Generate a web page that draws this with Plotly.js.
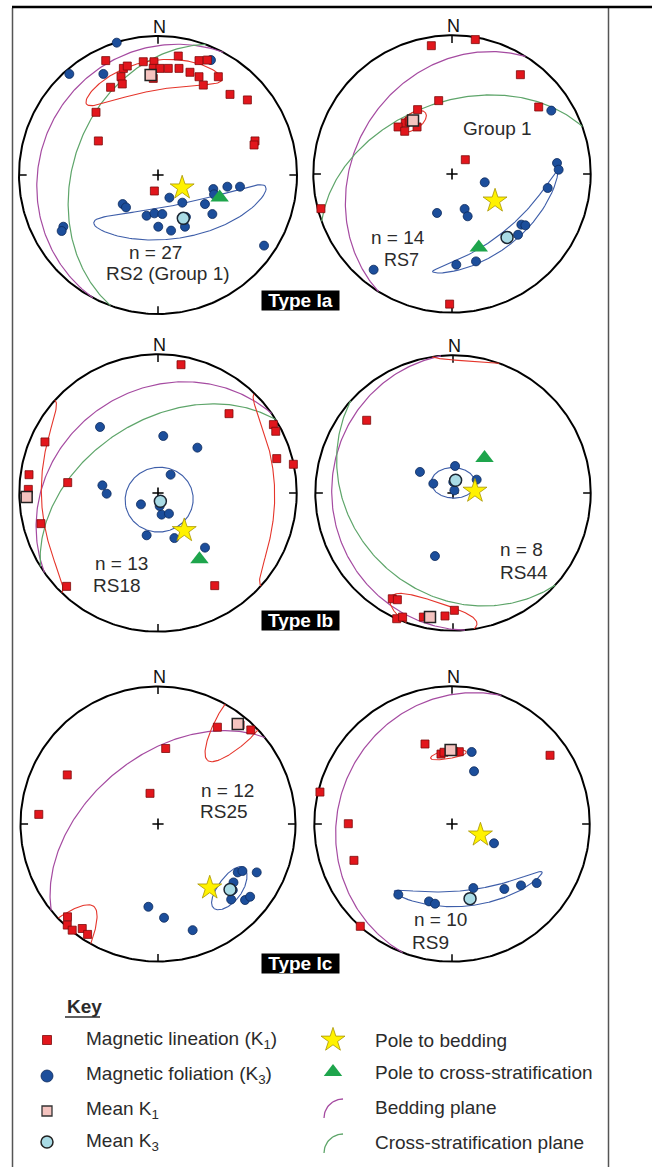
<!DOCTYPE html>
<html><head><meta charset="utf-8">
<script src="https://cdn.plot.ly/plotly-3.0.1.min.js"></script>
<style>html,body{margin:0;padding:0;background:#fff;} #chart{width:652px;height:1167px;}</style>
</head><body><div id="chart"></div>
<script>
// ---------- DATA (projected equal-area net coordinates, unit = net radius; [east, north]) ----------
// RS2 (Group 1)
const rs2_k1 = [[-0.376,0.823],[-0.249,0.767],[-0.221,0.784],[-0.106,0.815],[-0.029,0.815],[-0.034,0.767],[0.014,0.767],[0.074,0.767],[0.146,0.856],[0.151,0.767],[0.230,0.739],[0.295,0.823],[0.355,0.827],[0.295,0.707],[0.434,0.707],[0.326,0.647],[-0.266,0.707],[-0.257,0.655],[-0.341,0.631],[0.518,0.580],[0.643,0.540],[-0.446,0.451],[-0.429,0.245],[0.698,0.245],[0.691,0.216],[-0.026,-0.115],[-0.034,0.695]];
const rs2_k3 = [[-0.297,0.952],[-0.638,0.727],[-0.393,0.727],[0.381,0.827],[-0.254,-0.209],[-0.230,-0.233],[-0.082,-0.293],[-0.026,-0.276],[0.031,-0.281],[0.002,-0.372],[0.094,-0.400],[0.082,-0.163],[0.175,-0.199],[0.194,-0.372],[0.201,-0.302],[0.338,-0.209],[0.391,-0.281],[0.398,-0.101],[0.403,-0.139],[0.499,-0.084],[0.590,-0.084],[-0.681,-0.372],[-0.693,-0.403],[0.763,-0.508]];
const rs2_meanK1 = [-0.053,0.719];
const rs2_meanK3 = [0.182,-0.312];
const rs2_bedding = [298,16];      // dip direction, dip
const rs2_crossStrat = [290,39];
const rs2_ellipseK1 = [356,29,36,10,-9];   // trend, plunge, major, minor semi-angle, rotation
const rs2_ellipseK3 = [150,59,52,10,20];

// RS7
const rs7_k1 = [[-0.149,0.925],[0.168,0.969],[0.493,0.716],[-0.096,0.529],[0.625,0.483],[-0.248,0.464],[-0.337,0.368],[-0.389,0.339],[-0.341,0.308],[-0.252,0.339],[0.096,0.103],[-0.945,-0.250],[-0.017,-0.938],[-0.308,0.380]];
const rs7_k3 = [[0.716,0.457],[0.757,0.079],[0.769,0.031],[0.690,-0.101],[0.236,-0.060],[0.091,-0.252],[0.113,-0.305],[-0.108,-0.281],[0.500,-0.365],[0.529,-0.370],[0.476,-0.438],[0.031,-0.654],[0.173,-0.630],[-0.565,-0.690]];
const rs7_meanK1 = [-0.281,0.385];
const rs7_meanK3 = [0.397,-0.457];
const rs7_bedding = [302,30];
const rs7_crossStrat = [340,47];
const rs7_ellipseK1 = [324,51,8,5,0];
const rs7_ellipseK3 = [139,39,44,4.5,3];

// RS18
const rs18_k1 = [[0.166,0.925],[0.512,0.572],[0.832,0.493],[0.849,0.445],[0.856,0.248],[0.976,0.207],[-0.815,0.368],[-0.930,0.132],[-0.935,0.026],[-0.651,0.075],[-0.844,-0.221],[-0.659,-0.673],[0.409,-0.668]];
const rs18_k3 = [[-0.418,0.476],[0.038,0.411],[0.284,0.327],[0.091,0.132],[-0.401,0.055],[-0.370,-0.005],[-0.123,-0.082],[0.026,-0.156],[0.079,-0.149],[-0.082,-0.305],[0.118,-0.325],[0.339,-0.394],[0.012,-0.094]];
const rs18_meanK1 = [-0.947,-0.029];
const rs18_meanK3 = [0.017,-0.060];
const rs18_bedding = [325,27];
const rs18_crossStrat = [328,47];
const rs18_ellipseK1 = [268,0,44,17,0];
const rs18_ellipseK3 = [170,86,20,19,0];

// RS44
const rs44_k1 = [[-0.627,0.528],[-0.441,-0.768],[-0.404,-0.775],[-0.409,-0.913],[-0.366,-0.901],[-0.215,-0.901],[-0.058,-0.893],[0.010,-0.852]];
const rs44_k3 = [[-0.240,0.153],[0.015,0.196],[-0.143,0.068],[0.172,0.097],[-0.131,-0.458],[0.010,0.019],[0.002,0.080]];
const rs44_meanK1 = [-0.167,-0.901];
const rs44_meanK3 = [0.019,0.092];
const rs44_bedding = [265,13];
const rs44_crossStrat = [222,28];
const rs44_ellipseK1 = [190,9,21,12,17];
const rs44_ellipseK3 = [2,84,13,9,0];

// RS25
const rs25_k1 = [[0.432,0.704],[0.675,0.684],[0.056,0.549],[-0.660,0.357],[-0.058,0.223],[-0.867,0.070],[-0.658,-0.675],[-0.660,-0.735],[-0.624,-0.772],[-0.551,-0.760],[-0.512,-0.803],[0.597,0.721]];
const rs25_k3 = [[0.580,-0.352],[0.614,-0.342],[0.718,-0.352],[0.549,-0.425],[0.532,-0.549],[0.633,-0.553],[0.670,-0.529],[-0.070,-0.602],[0.044,-0.682],[0.252,-0.772],[0.544,-0.481]];
const rs25_meanK1 = [0.580,0.728];
const rs25_meanK3 = [0.524,-0.476];
const rs25_bedding = [321,50];
const rs25_crossStrat = null;
const rs25_ellipseK1 = [38,8,33,9,90];
const rs25_ellipseK3 = [132,30,13,8,-10];

// RS9
const rs9_k1 = [[-0.196,0.581],[-0.080,0.508],[-0.058,0.521],[0.053,0.525],[0.712,0.499],[-0.959,0.232],[-0.753,0.002],[-0.712,-0.264],[-0.666,-0.743],[0.010,0.528]];
const rs9_k3 = [[0.143,0.523],[0.160,0.383],[0.305,-0.140],[-0.390,-0.513],[-0.167,-0.562],[-0.123,-0.579],[0.155,-0.465],[0.380,-0.472],[0.501,-0.446],[0.615,-0.429]];
const rs9_meanK1 = [-0.010,0.538];
const rs9_meanK3 = [0.131,-0.542];
const rs9_bedding = [291,18];
const rs9_crossStrat = null;
const rs9_ellipseK1 = [357,48,10,2.7,-8];
const rs9_ellipseK3 = [166,44,42,5,8];

// Labels
const netCounts = ['n = 27','n = 14','n = 13','n = 8','n = 12','n = 10'];
const netNames = ['RS2 (Group 1)','RS7','RS18','RS44','RS25','RS9'];
const typeLabels = ['Type Ia','Type Ib','Type Ic'];
const keyLeft = ['Magnetic lineation (K<sub>1</sub>)','Magnetic foliation (K<sub>3</sub>)','Mean K<sub>1</sub>','Mean K<sub>3</sub>'];
const keyRight = ['Pole to bedding','Pole to cross-stratification','Bedding plane','Cross-stratification plane'];

// ---------- GEOMETRY ----------
const W=652,H=1167,S=150;
const FONT='"Liberation Sans", Arial, Helvetica, sans-serif';
const TXT='#2b2b2b';
const C = {k1:'#e2161c',k1l:'#7d0b0b',k3:'#1c4e9b',k3l:'#0d2a5c',mk1:'#f4c3bf',mk3:'#a9dbe5',star:'#fff200',tri:'#1ea54c',bed:'#a54ba1',cross:'#5ea56a',e1:'#e5352b',e3:'#3e5ea9'};
const D2R=Math.PI/180;
function vec(tr,pl){const t=tr*D2R,p=pl*D2R;return [Math.cos(p)*Math.sin(t),Math.cos(p)*Math.cos(t),Math.sin(p)];}
function proj(v){let [e,n,d]=v;let up=false;if(d<0){e=-e;n=-n;d=-d;up=true;}const k=1/Math.sqrt(1+d);return [e*k,n*k,up];}
function greatCircle(pl){const s=vec(pl[0]-90,0),g=vec(pl[0],pl[1]);const xs=[],ys=[];
  for(let l=0;l<=180;l+=1){const c=Math.cos(l*D2R),sn=Math.sin(l*D2R);const p=proj([s[0]*c+g[0]*sn,s[1]*c+g[1]*sn,s[2]*c+g[2]*sn]);xs.push(p[0]);ys.push(p[1]);}
  return [xs,ys];}
function pole(pl){const p=proj(vec(pl[0]+180,90-pl[1]));return [p[0],p[1]];}
function coneEllipse(e){const [tr,pl,a,b,rot]=e;const m=vec(tr,pl);
  const u=[Math.cos(tr*D2R),-Math.sin(tr*D2R),0];
  const v=[-Math.sin(pl*D2R)*Math.sin(tr*D2R),-Math.sin(pl*D2R)*Math.cos(tr*D2R),Math.cos(pl*D2R)];
  const r=rot*D2R;const A=[0,1,2].map(i=>Math.cos(r)*u[i]+Math.sin(r)*v[i]);const B=[0,1,2].map(i=>-Math.sin(r)*u[i]+Math.cos(r)*v[i]);
  const xs=[],ys=[];let prev=null;
  for(let k=0;k<=360;k+=1){const ps=k*D2R;const th=a*b/Math.sqrt(Math.pow(b*Math.cos(ps),2)+Math.pow(a*Math.sin(ps),2))*D2R;
    const d=[0,1,2].map(i=>Math.cos(th)*m[i]+Math.sin(th)*(Math.cos(ps)*A[i]+Math.sin(ps)*B[i]));
    const p=proj(d);if(prev!==null&&prev!==p[2]){xs.push(null);ys.push(null);}prev=p[2];xs.push(p[0]);ys.push(p[1]);}
  return [xs,ys];}

const nets=[
 {cx:158,cy:175,R:139,k1:rs2_k1,k3:rs2_k3,mk1:rs2_meanK1,mk3:rs2_meanK3,bed:rs2_bedding,cr:rs2_crossStrat,e1:rs2_ellipseK1,e3:rs2_ellipseK3},
 {cx:452,cy:174,R:138.7,k1:rs7_k1,k3:rs7_k3,mk1:rs7_meanK1,mk3:rs7_meanK3,bed:rs7_bedding,cr:rs7_crossStrat,e1:rs7_ellipseK1,e3:rs7_ellipseK3},
 {cx:158,cy:493,R:138.7,k1:rs18_k1,k3:rs18_k3,mk1:rs18_meanK1,mk3:rs18_meanK3,bed:rs18_bedding,cr:rs18_crossStrat,e1:rs18_ellipseK1,e3:rs18_ellipseK3},
 {cx:453,cy:493,R:137.7,k1:rs44_k1,k3:rs44_k3,mk1:rs44_meanK1,mk3:rs44_meanK3,bed:rs44_bedding,cr:rs44_crossStrat,e1:rs44_ellipseK1,e3:rs44_ellipseK3},
 {cx:158,cy:824,R:137.5,k1:rs25_k1,k3:rs25_k3,mk1:rs25_meanK1,mk3:rs25_meanK3,bed:rs25_bedding,cr:rs25_crossStrat,e1:rs25_ellipseK1,e3:rs25_ellipseK3},
 {cx:452,cy:824,R:137.7,k1:rs9_k1,k3:rs9_k3,mk1:rs9_meanK1,mk3:rs9_meanK3,bed:rs9_bedding,cr:rs9_crossStrat,e1:rs9_ellipseK1,e3:rs9_ellipseK3}
];
// label placement (pixels, text centres)
const countPos=[[155,252],[398,238],[121,563],[521,550],[227,790],[440,919]];
const namePos=[[168,273],[401,260],[117,585],[524,572],[224,811],[430,942]];
const nameSize=[19,18,19,19,19,19];
const typePos=[[300.5,300],[300.5,620],[300.5,963]];

const px=x=>x/W, py=y=>1-y/H;
const traces=[];
const layout={width:W,height:H,margin:{l:0,r:0,t:0,b:0,pad:0},paper_bgcolor:'#fff',plot_bgcolor:'rgba(0,0,0,0)',showlegend:false,shapes:[],annotations:[],font:{family:FONT,color:TXT}};

const circ=[[],[]];for(let t=0;t<=360;t+=1){circ[0].push(Math.cos(t*D2R));circ[1].push(Math.sin(t*D2R));}

nets.forEach((n,i)=>{
  const id=i+1, sfx=(id===1?'':String(id));
  const xa='x'+sfx, ya='y'+sfx;
  const lim=S/n.R;
  layout['xaxis'+sfx]={domain:[(n.cx-S)/W,(n.cx+S)/W],range:[-lim,lim],visible:false,fixedrange:true,anchor:ya};
  layout['yaxis'+sfx]={domain:[1-(n.cy+S)/H,1-(n.cy-S)/H],range:[-lim,lim],visible:false,fixedrange:true,anchor:xa};
  const add=(o)=>{o.xaxis=xa;o.yaxis=ya;o.hoverinfo='skip';traces.push(o);};
  add({type:'scatter',mode:'lines',x:circ[0],y:circ[1],line:{color:'#000',width:2}});
  add({type:'scatter',mode:'lines',x:[0,0,null,1,0.945,null,0,0,null,-1,-0.945],y:[1,0.945,null,0,0,null,-1,-0.945,null,0,0],line:{color:'#000',width:1.5}});
  add({type:'scatter',mode:'markers',x:[0],y:[0],marker:{symbol:'cross-thin',size:8,line:{color:'#000',width:1.6}}});
  const gb=greatCircle(n.bed);
  add({type:'scatter',mode:'lines',x:gb[0],y:gb[1],line:{color:C.bed,width:1.2}});
  if(n.cr){const gc=greatCircle(n.cr);add({type:'scatter',mode:'lines',x:gc[0],y:gc[1],line:{color:C.cross,width:1.2}});}
  const el1=coneEllipse(n.e1), el3=coneEllipse(n.e3);
  add({type:'scatter',mode:'lines',x:el1[0],y:el1[1],line:{color:C.e1,width:1.1}});
  add({type:'scatter',mode:'lines',x:el3[0],y:el3[1],line:{color:C.e3,width:1.1}});
  add({type:'scatter',mode:'markers',x:n.k3.map(p=>p[0]),y:n.k3.map(p=>p[1]),marker:{symbol:'circle',size:9,color:C.k3,line:{color:C.k3l,width:0.8}}});
  add({type:'scatter',mode:'markers',x:n.k1.map(p=>p[0]),y:n.k1.map(p=>p[1]),marker:{symbol:'square',size:8,color:C.k1,line:{color:C.k1l,width:0.8}}});
  add({type:'scatter',mode:'markers',x:[n.mk1[0]],y:[n.mk1[1]],marker:{symbol:'square',size:11,color:C.mk1,line:{color:'#222',width:1.5}}});
  add({type:'scatter',mode:'markers',x:[n.mk3[0]],y:[n.mk3[1]],marker:{symbol:'circle',size:12,color:C.mk3,line:{color:'#1b2633',width:1.5}}});
  const pb=pole(n.bed);
  add({type:'scatter',mode:'markers',x:[pb[0]],y:[pb[1]],marker:{symbol:'star',size:18,color:C.star,line:{color:'#a89400',width:0.8}}});
  if(n.cr){const pc=pole(n.cr);add({type:'scatter',mode:'markers',x:[pc[0]],y:[pc[1]],marker:{symbol:'triangle-up',size:16,color:C.tri,line:{width:0}}});}
  layout.annotations.push({xref:'paper',yref:'paper',x:px(n.cx+1),y:py(n.cy-n.R-9),text:'N',showarrow:false,xanchor:'center',yanchor:'middle',font:{size:18,color:'#111',family:FONT}});
  layout.annotations.push({xref:'paper',yref:'paper',x:px(countPos[i][0]),y:py(countPos[i][1]),text:netCounts[i],showarrow:false,xanchor:'center',yanchor:'middle',font:{size:19,color:TXT,family:FONT}});
  layout.annotations.push({xref:'paper',yref:'paper',x:px(namePos[i][0]),y:py(namePos[i][1]),text:netNames[i],showarrow:false,xanchor:'center',yanchor:'middle',font:{size:nameSize[i],color:TXT,family:FONT}});
});
layout.annotations.push({xref:'paper',yref:'paper',x:px(461),y:py(129),text:'Group 1',showarrow:false,xanchor:'left',yanchor:'middle',font:{size:19,color:TXT,family:FONT}});
typeLabels.forEach((t,i)=>{
  layout.annotations.push({xref:'paper',yref:'paper',x:px(typePos[i][0]),y:py(typePos[i][1]),text:'<b>'+t+'</b>',showarrow:false,xanchor:'center',yanchor:'middle',bgcolor:'#000',borderpad:0,width:77,height:19,font:{size:19,color:'#fff',family:FONT}});
});

// Key (axis 7 in page pixels)
layout.xaxis7={domain:[0,1],range:[0,W],visible:false,fixedrange:true,anchor:'y7'};
layout.yaxis7={domain:[0,1],range:[H,0],visible:false,fixedrange:true,anchor:'x7'};
const keyRowsL=[1040,1075,1110,1142], keyRowsR=[1040,1072,1107,1142];
const kadd=(o)=>{o.xaxis='x7';o.yaxis='y7';o.hoverinfo='skip';traces.push(o);};
kadd({type:'scatter',mode:'markers',x:[47],y:[keyRowsL[0]],marker:{symbol:'square',size:9,color:C.k1,line:{color:C.k1l,width:0.8}}});
kadd({type:'scatter',mode:'markers',x:[47],y:[keyRowsL[1]+1],marker:{symbol:'circle',size:12,color:C.k3,line:{color:C.k3l,width:0.8}}});
kadd({type:'scatter',mode:'markers',x:[47],y:[keyRowsL[2]+1],marker:{symbol:'square',size:10,color:C.mk1,line:{color:'#333',width:1.3}}});
kadd({type:'scatter',mode:'markers',x:[47],y:[keyRowsL[3]],marker:{symbol:'circle',size:12,color:C.mk3,line:{color:'#222',width:1.5}}});
kadd({type:'scatter',mode:'markers',x:[333],y:[keyRowsR[0]],marker:{symbol:'star',size:18,color:C.star,line:{color:'#a89400',width:0.8}}});
kadd({type:'scatter',mode:'markers',x:[333],y:[keyRowsR[1]],marker:{symbol:'triangle-up',size:16,color:C.tri,line:{width:0}}});
function keyArc(yc){const xs=[],ys=[];for(let t=0;t<=90;t+=5){xs.push(343-19*Math.cos(t*D2R));ys.push(yc+11-19*Math.sin(t*D2R));}return [xs,ys];}
const a1=keyArc(keyRowsR[2]), a2=keyArc(keyRowsR[3]);
kadd({type:'scatter',mode:'lines',x:a1[0],y:a1[1],line:{color:C.bed,width:1.3}});
kadd({type:'scatter',mode:'lines',x:a2[0],y:a2[1],line:{color:C.cross,width:1.3}});
layout.annotations.push({xref:'paper',yref:'paper',x:px(65),y:py(1006),text:'<b>Key</b>',showarrow:false,xanchor:'left',yanchor:'middle',font:{size:19,color:TXT,family:FONT}});
layout.shapes.push({type:'line',xref:'paper',yref:'paper',x0:px(65),x1:px(100),y0:py(1017),y1:py(1017),line:{color:TXT,width:1.3}});
keyLeft.forEach((t,i)=>layout.annotations.push({xref:'paper',yref:'paper',x:px(84),y:py(keyRowsL[i]),text:t,showarrow:false,xanchor:'left',yanchor:'middle',font:{size:19,color:TXT,family:FONT}}));
keyRight.forEach((t,i)=>layout.annotations.push({xref:'paper',yref:'paper',x:px(373),y:py(keyRowsR[i]),text:t,showarrow:false,xanchor:'left',yanchor:'middle',font:{size:19,color:TXT,family:FONT}}));

// Frame
layout.shapes.push({type:'line',xref:'paper',yref:'paper',x0:px(12.5),x1:px(12.5),y0:py(8),y1:py(1167),line:{color:'#555',width:1.5}});
layout.shapes.push({type:'line',xref:'paper',yref:'paper',x0:px(608.5),x1:px(608.5),y0:py(8),y1:py(1167),line:{color:'#555',width:1.5}});
layout.shapes.push({type:'line',xref:'paper',yref:'paper',x0:px(12),x1:px(652),y0:py(7),y1:py(7),line:{color:'#000',width:2.5}});

Plotly.newPlot('chart',traces,layout,{staticPlot:true,displayModeBar:false});
</script></body></html>
